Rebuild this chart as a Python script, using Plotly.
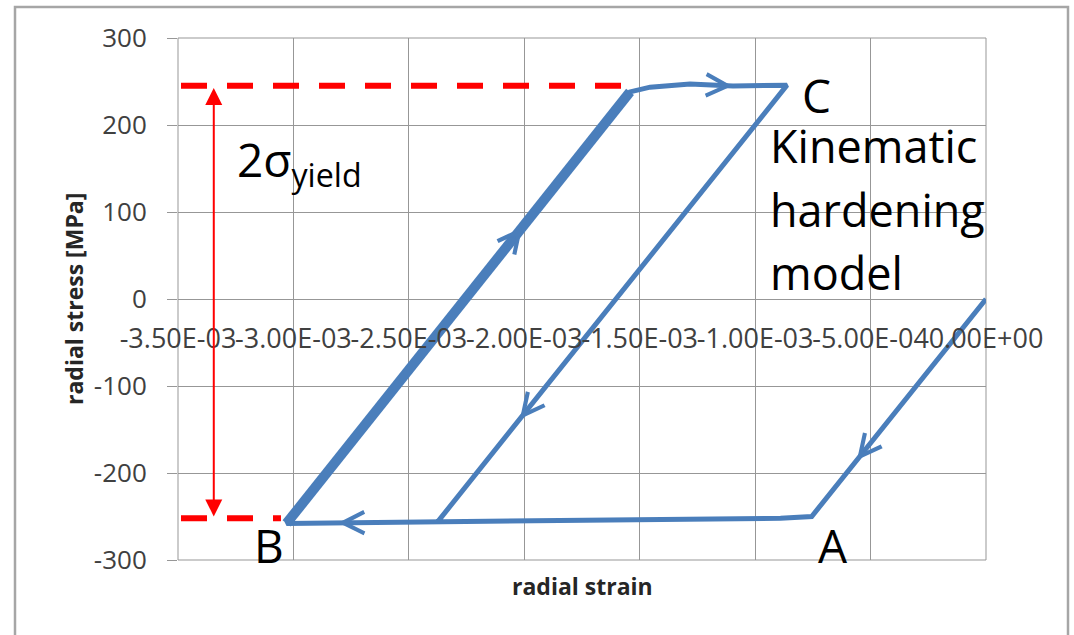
import math
import plotly.graph_objects as go

# ---------------- data ----------------
strain = [0.0, -7.55e-4, -8.9e-4, -1.30e-3, -1.60e-3, -2.00e-3, -2.378e-3, -2.70e-3, -3.03e-3,
          -1.542e-3, -1.455e-3, -1.282e-3, -1.096e-3, -8.62e-4, -2.378e-3]
stress = [0, -250, -252, -253, -254, -255, -257, -257, -258,
          238, 243.5, 247, 244.7, 245.8, -257]

# thick (repeated) reloading branch: from point B to the upper kink
reload_from, reload_to = 8, 9

# direction arrows on the curve: (segment start index, fraction along segment)
arrow_marks = [(0, 0.74), (7, 0.32), (8, 0.686), (11, 0.98), (13, 0.763)]

x_tickvals = [-3.5e-3, -3.0e-3, -2.5e-3, -2.0e-3, -1.5e-3, -1.0e-3, -5.0e-4, 0.0]
x_ticktext = ["-3.50E-03", "-3.00E-03", "-2.50E-03", "-2.00E-03", "-1.50E-03",
              "-1.00E-03", "-5.00E-04", "0.00E+00"]
y_tickvals = [-300, -200, -100, 0, 100, 200, 300]
y_ticktext = ["-300", "-200", "-100", "0", "100", "200", "300"]

# yield levels (red dashed guides) and the 2*sigma_yield span
yield_top, yield_bot = 245, -252
dash_start = -3.487e-3
yield_top_end = -1.572e-3
yield_bot_end = -3.054e-3
span_x = -3.345e-3
span_top, span_bot = 242.5, -251.7

# ---------------- styling ----------------
W, H = 1074, 635
ML, MR, MT, MB = 178, 88, 38, 75
PW, PH = W - ML - MR, H - MT - MB
XR = [-3.5e-3, 0.0]
YR = [-300, 300]
BLUE = "#4a7ebb"
GRID = "#979797"
RED = "#ff0000"
FONT = "Open Sans"

def px_per_x():
    return PW / (XR[1] - XR[0])

def px_per_y():
    return PH / (YR[1] - YR[0])

fig = go.Figure()

# red dashed yield guides
fig.add_trace(go.Scatter(x=[dash_start, yield_top_end], y=[yield_top, yield_top], mode="lines",
                         line=dict(color=RED, width=6, dash="26px,20px"), hoverinfo="skip"))
fig.add_trace(go.Scatter(x=[dash_start, yield_bot_end], y=[yield_bot, yield_bot], mode="lines",
                         line=dict(color=RED, width=6, dash="26px,20px"), hoverinfo="skip"))

# stress-strain path
fig.add_trace(go.Scatter(x=strain, y=stress, mode="lines",
                         line=dict(color=BLUE, width=5), hoverinfo="skip"))
fig.add_trace(go.Scatter(x=strain[reload_from:reload_to + 1], y=stress[reload_from:reload_to + 1],
                         mode="lines", line=dict(color=BLUE, width=10), hoverinfo="skip"))

annotations = []
# chevron direction arrows along the curve
for i, t in arrow_marks:
    x0, y0, x1, y1 = strain[i], stress[i], strain[i + 1], stress[i + 1]
    tx, ty = x0 + t * (x1 - x0), y0 + t * (y1 - y0)
    dxp, dyp = (x1 - x0) * px_per_x(), (y1 - y0) * px_per_y()
    L = math.hypot(dxp, dyp)
    back = 30.0
    ax_ = tx - dxp / L * back / px_per_x()
    ay_ = ty - dyp / L * back / px_per_y()
    annotations.append(dict(x=tx, y=ty, ax=ax_, ay=ay_, xref="x", yref="y", axref="x", ayref="y",
                            text="", showarrow=True, arrowhead=5, arrowsize=2.8, arrowwidth=1.5,
                            arrowcolor=BLUE, standoff=0))

# red double arrow for 2 sigma_yield
annotations.append(dict(x=span_x, y=span_top, ax=span_x, ay=span_bot, xref="x", yref="y",
                        axref="x", ayref="y", text="", showarrow=True, arrowside="end+start",
                        arrowhead=2, startarrowhead=2, arrowsize=1.7, startarrowsize=1.7,
                        arrowwidth=2, arrowcolor=RED, standoff=0, startstandoff=0))

def lab(text, x, y, size=46, xanchor="left", yanchor="middle"):
    annotations.append(dict(text=text, x=x, y=y, xref="x", yref="y", showarrow=False,
                            xanchor=xanchor, yanchor=yanchor,
                            font=dict(family=FONT, size=size, color="#000000")))

lab("2σ<sub>yield</sub>", -3.255e-3, 199, yanchor="top")
lab("C", -8.06e-4, 234)
lab("B", -3.179e-3, -283)
lab("A", -7.36e-4, -283)
lab("Kinematic", -9.44e-4, 176.4, size=45)
lab("hardening", -9.44e-4, 102.9, size=45)
lab("model", -9.44e-4, 30.5, size=45)

# axis titles
annotations.append(dict(text="<b>radial strain</b>", xref="paper", yref="paper", x=0.5,
                        y=-26 / PH, xanchor="center", yanchor="middle", showarrow=False,
                        font=dict(family=FONT, size=23, color="#262626")))
annotations.append(dict(text="<b>radial stress [MPa]</b>", xref="paper", yref="paper",
                        x=(74 - ML) / PW, y=0.5, xanchor="center", yanchor="middle",
                        textangle=-90, showarrow=False,
                        font=dict(family=FONT, size=23, color="#262626")))

shapes = [
    # outer chart-area border
    dict(type="rect", xref="paper", yref="paper",
         x0=(15 - ML) / PW, x1=(1068 - ML) / PW,
         y0=-(MB + 10) / PH, y1=1 + (MT - 7) / PH,
         line=dict(color="#a6a6a6", width=2.5), fillcolor="rgba(0,0,0,0)", layer="below"),
    # plot-area edge gridlines
    dict(type="rect", xref="paper", yref="paper", x0=0, x1=1, y0=0, y1=1,
         line=dict(color=GRID, width=1), fillcolor="rgba(0,0,0,0)", layer="below"),
]

fig.update_layout(width=W, height=H, margin=dict(l=ML, r=MR, t=MT, b=MB),
                  paper_bgcolor="white", plot_bgcolor="white", showlegend=False,
                  annotations=annotations, shapes=shapes)
fig.update_xaxes(range=XR, tickvals=x_tickvals, ticktext=x_ticktext, tickangle=0,
                 showgrid=True, gridcolor=GRID, gridwidth=1, zeroline=False,
                 anchor="free", position=0.5, ticks="", showline=False,
                 ticklabelstandoff=21,
                 tickfont=dict(family=FONT, size=27, color="#404040"))
fig.update_yaxes(range=YR, tickvals=y_tickvals, ticktext=y_ticktext,
                 showgrid=True, gridcolor=GRID, gridwidth=1,
                 zeroline=True, zerolinecolor=GRID, zerolinewidth=1,
                 ticks="outside", ticklen=10, tickcolor=GRID, tickwidth=1,
                 ticklabelstandoff=15,
                 tickfont=dict(family=FONT, size=26, color="#404040"))

fig.write_html("out.html")
